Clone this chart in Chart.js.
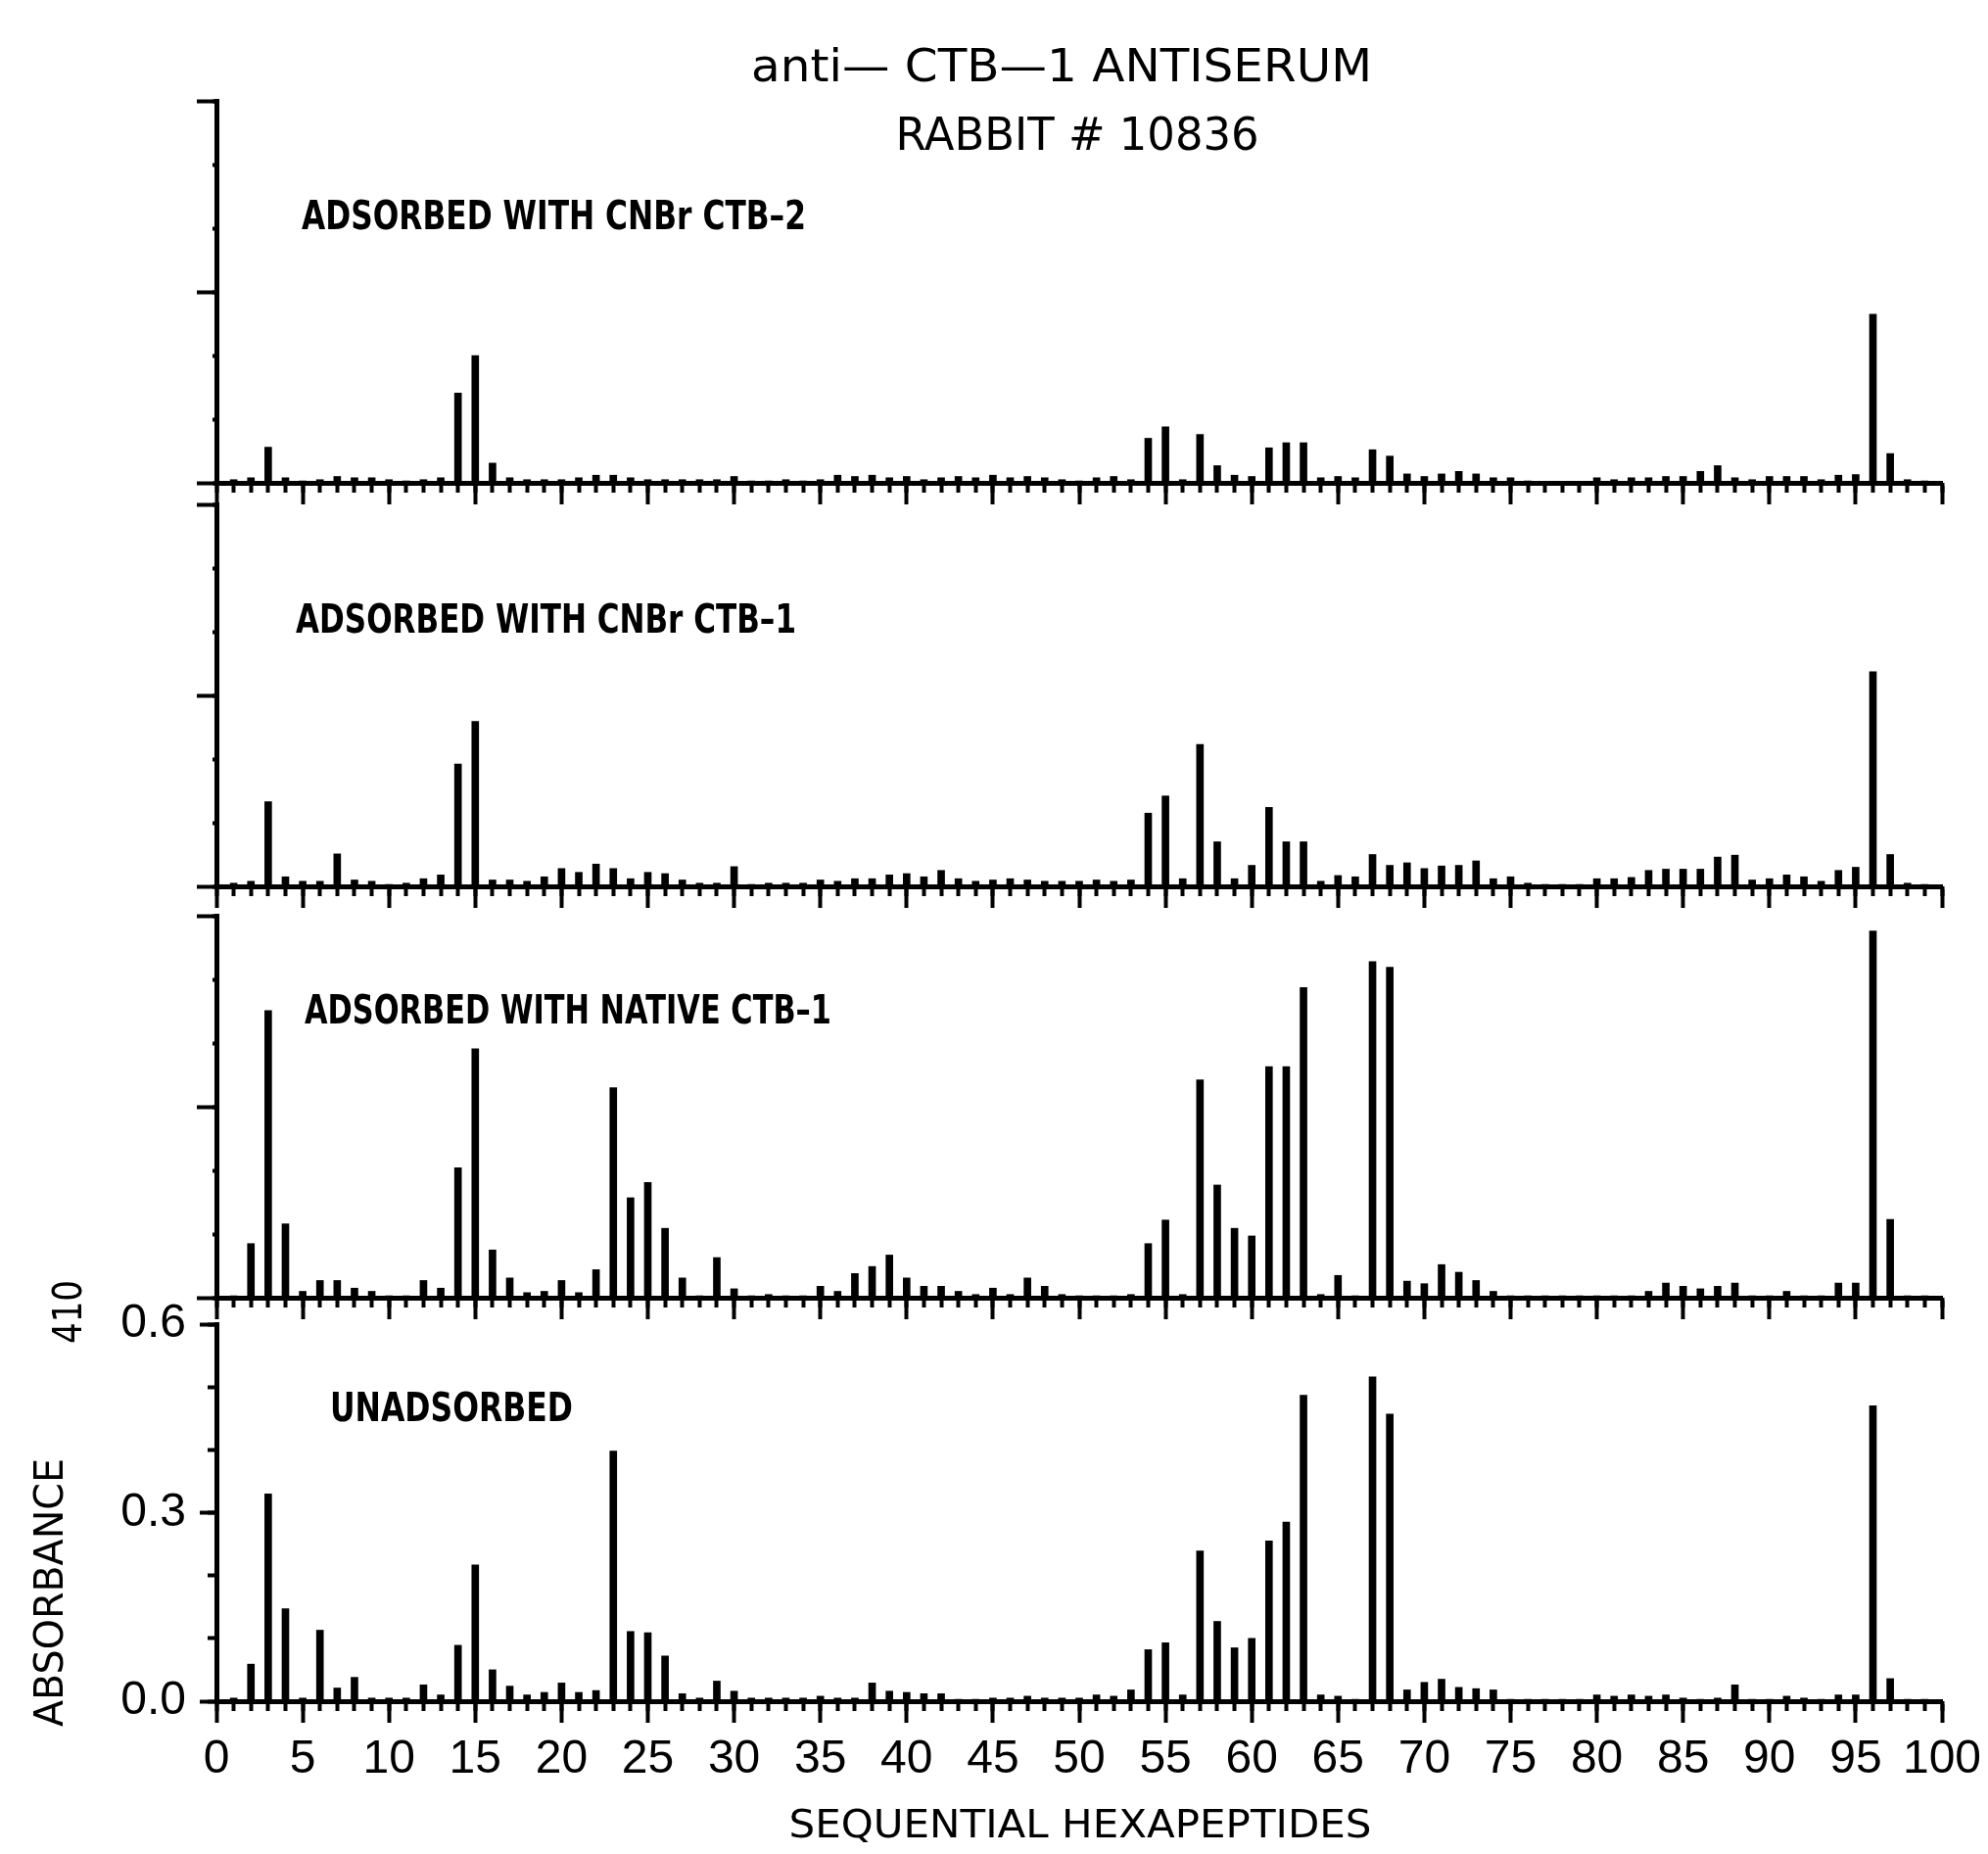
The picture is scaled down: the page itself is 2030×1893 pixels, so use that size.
<!DOCTYPE html>
<html><head><meta charset="utf-8">
<script src="https://cdn.jsdelivr.net/npm/chart.js@4.4.1/dist/chart.umd.min.js"></script>
<style>
html,body{margin:0;padding:0;background:#fff;}
#wrap{position:relative;width:2030px;height:1893px;background:#fff;}
canvas{position:absolute;left:0;top:0;}
</style></head><body>
<div id="wrap">
<canvas id="c1" width="2030" height="1893"></canvas>
<canvas id="c2" width="2030" height="1893"></canvas>
<canvas id="c3" width="2030" height="1893"></canvas>
<canvas id="c4" width="2030" height="1893"></canvas>
</div>
<script>
// ---------------- DATA ----------------
const hexapeptides = [
 1,2,3,4,5,6,7,8,9,10,11,12,13,14,15,16,17,18,19,20,
 21,22,23,24,25,26,27,28,29,30,31,32,33,34,35,36,37,38,39,40,
 41,42,43,44,45,46,47,48,49,50,51,52,53,54,55,56,57,58,59,60,
 61,62,63,64,65,66,67,68,69,70,71,72,73,74,75,76,77,78,79,80,
 81,82,83,84,85,86,87,88,89,90,91,92,93,94,95,96,97,98,99
];

const adsorbedCNBrCTB2 = [
 0.005,0.008,0.056,0.008,0.003,0.005,0.010,0.008,0.008,0.005,
 0.003,0.005,0.008,0.141,0.200,0.031,0.008,0.005,0.005,0.005,
 0.008,0.012,0.012,0.008,0.005,0.005,0.005,0.005,0.005,0.010,
 0.003,0.003,0.005,0.003,0.005,0.012,0.010,0.012,0.008,0.010,
 0.005,0.008,0.010,0.008,0.012,0.008,0.010,0.008,0.005,0.003,
 0.008,0.010,0.005,0.070,0.088,0.005,0.076,0.027,0.012,0.010,
 0.055,0.063,0.063,0.008,0.010,0.008,0.052,0.042,0.014,0.010,
 0.014,0.018,0.014,0.008,0.008,0.003,0.002,0.002,0.002,0.008,
 0.005,0.008,0.008,0.010,0.010,0.018,0.027,0.008,0.005,0.010,
 0.010,0.010,0.005,0.012,0.013,0.265,0.046,0.005,0.003
];

const adsorbedCNBrCTB1 = [
 0.005,0.008,0.133,0.015,0.008,0.008,0.051,0.010,0.008,0.003,
 0.005,0.012,0.018,0.192,0.259,0.010,0.010,0.008,0.015,0.028,
 0.022,0.035,0.028,0.012,0.022,0.020,0.010,0.005,0.005,0.031,
 0.003,0.005,0.005,0.005,0.010,0.008,0.012,0.012,0.018,0.020,
 0.015,0.025,0.012,0.008,0.010,0.012,0.010,0.008,0.008,0.008,
 0.010,0.008,0.010,0.115,0.142,0.012,0.223,0.070,0.012,0.033,
 0.124,0.070,0.070,0.008,0.017,0.015,0.050,0.033,0.037,0.028,
 0.032,0.033,0.040,0.012,0.015,0.005,0.003,0.003,0.003,0.012,
 0.012,0.014,0.025,0.027,0.027,0.027,0.046,0.049,0.010,0.012,
 0.018,0.015,0.008,0.025,0.030,0.337,0.050,0.005,0.003
];

const adsorbedNativeCTB1 = [
 0.003,0.085,0.451,0.116,0.010,0.027,0.027,0.015,0.010,0.003,
 0.003,0.027,0.015,0.204,0.391,0.075,0.031,0.008,0.010,0.027,
 0.008,0.044,0.330,0.157,0.181,0.109,0.031,0.003,0.063,0.014,
 0.003,0.005,0.003,0.003,0.018,0.010,0.038,0.049,0.067,0.031,
 0.018,0.018,0.010,0.005,0.015,0.005,0.031,0.018,0.005,0.003,
 0.003,0.003,0.005,0.085,0.122,0.005,0.342,0.177,0.109,0.097,
 0.363,0.363,0.487,0.005,0.035,0.003,0.528,0.519,0.026,0.022,
 0.052,0.040,0.027,0.010,0.003,0.003,0.003,0.003,0.003,0.003,
 0.003,0.003,0.010,0.023,0.018,0.014,0.018,0.023,0.003,0.003,
 0.010,0.003,0.003,0.023,0.023,0.576,0.123,0.003,0.003
];

const unadsorbed = [
 0.005,0.059,0.330,0.147,0.005,0.113,0.021,0.038,0.005,0.005,
 0.005,0.026,0.010,0.089,0.217,0.050,0.024,0.010,0.014,0.029,
 0.014,0.017,0.398,0.111,0.109,0.072,0.012,0.005,0.032,0.016,
 0.005,0.005,0.005,0.005,0.008,0.005,0.005,0.029,0.016,0.014,
 0.012,0.012,0.003,0.003,0.005,0.005,0.008,0.005,0.005,0.005,
 0.010,0.008,0.018,0.082,0.093,0.010,0.239,0.127,0.085,0.100,
 0.255,0.285,0.487,0.010,0.008,0.003,0.516,0.457,0.018,0.030,
 0.035,0.022,0.020,0.018,0.003,0.003,0.003,0.003,0.003,0.010,
 0.008,0.010,0.008,0.010,0.005,0.003,0.005,0.026,0.003,0.003,
 0.008,0.005,0.003,0.010,0.010,0.470,0.036,0.003,0.003
];

const panelLabels = [
 'ADSORBED WITH CNBr CTB\u20132',
 'ADSORBED WITH CNBr CTB\u20131',
 'ADSORBED WITH NATIVE CTB\u20131',
 'UNADSORBED'
];
const titleLines = ['anti\u2014 CTB\u20141 ANTISERUM', 'RABBIT # 10836'];
const xTitle = 'SEQUENTIAL HEXAPEPTIDES';
const yTitle = 'ABSORBANCE';
const yTitleSub = '410';
const xRange = [0, 100];
const yRange = [0, 0.6];

// ---------------- LAYOUT ----------------
const W = 2030, H = 1893;
const PLOT_LEFT = 221, PLOT_RIGHT = 1983;
const panelHeights = [390, 390, 390, 385];
const X_AXIS_H = 120;
const baselines = [493, 905, 1325, 1737];
// [left x, centre y, target width] of each panel caption
const labelBox = [[308, 224, 515], [302, 636, 511], [311, 1035, 538], [337, 1441, 248]];
const series = [adsorbedCNBrCTB2, adsorbedCNBrCTB1, adsorbedNativeCTB1, unadsorbed];

const SANS = '"DejaVu Sans", "Liberation Sans", sans-serif';
const TICKFONT = '"Liberation Sans", Arimo, sans-serif';

// draws text; if width given, squeezes it horizontally to that width
function drawText(ctx, text, x, y, font, opts) {
  opts = opts || {};
  ctx.save();
  ctx.font = font;
  ctx.fillStyle = '#000';
  ctx.textBaseline = 'middle';
  ctx.textAlign = 'left';
  const w = ctx.measureText(text).width;
  const sx = opts.width ? opts.width / w : 1;
  ctx.translate(x, y);
  if (opts.rot) ctx.rotate(opts.rot);
  let start = 0;
  if (opts.align === 'center') start = -w * sx / 2;
  ctx.scale(sx, 1);
  ctx.fillText(text, start / sx, 0);
  ctx.restore();
}

const textPlugin = {
  id: 'textPlugin',
  afterDraw(chart, args, o) {
    const ctx = chart.ctx;
    const b = o.box;
    drawText(ctx, o.label, b[0], b[1], 'bold 40px ' + SANS, {width: b[2]});
    if (o.first) {
      drawText(ctx, titleLines[0], 1084, 71, '46px ' + SANS, {align: 'center', width: 634});
      drawText(ctx, titleLines[1], 1100, 141, '46px ' + SANS, {align: 'center', width: 371});
    }
    if (o.last) {
      drawText(ctx, xTitle, 1103, 1866, '39px ' + SANS, {align: 'center', width: 595});
      drawText(ctx, yTitle, 54, 1763, '40px ' + SANS, {rot: -Math.PI / 2, width: 274});
      drawText(ctx, yTitleSub, 73, 1372, '40px ' + SANS, {rot: -Math.PI / 2, width: 65});
    }
  }
};

const fixH = h => s => { s.height = h; s.paddingLeft = 0; s.paddingRight = 0; s.paddingTop = 0; s.paddingBottom = 0; };
const fixW = w => s => { s.width = w; s.paddingLeft = 0; s.paddingRight = 0; s.paddingTop = 0; s.paddingBottom = 0; };

series.forEach((vals, i) => {
  const isLast = i === series.length - 1;
  const base = baselines[i];
  new Chart(document.getElementById('c' + (i + 1)), {
    type: 'bar',
    data: {
      datasets: [{
        data: hexapeptides.map((p, k) => ({x: p, y: vals[k]})),
        backgroundColor: '#000',
        borderWidth: 0,
        barThickness: 7,
        xAxisID: 'x', yAxisID: 'y'
      }]
    },
    plugins: [textPlugin],
    options: {
      responsive: false,
      animation: false,
      events: [],
      layout: {
        autoPadding: false,
        padding: {left: 0, right: W - PLOT_RIGHT, top: base - panelHeights[i], bottom: H - base - X_AXIS_H}
      },
      plugins: {
        legend: {display: false},
        tooltip: {enabled: false},
        textPlugin: {label: panelLabels[i], box: labelBox[i], first: i === 0, last: isLast}
      },
      scales: {
        x: {
          type: 'linear', position: 'bottom', min: xRange[0], max: xRange[1], weight: 0, offset: false,
          afterFit: fixH(0),
          ticks: {stepSize: 1, maxTicksLimit: 1000, autoSkip: false, display: false},
          grid: {offset: false, drawOnChartArea: false, drawTicks: true, tickLength: 10, tickWidth: 4, tickColor: '#000'},
          border: {display: true, width: 5, color: '#000'}
        },
        x5: {
          type: 'linear', position: 'bottom', min: xRange[0], max: xRange[1], weight: 1, offset: false,
          afterFit: fixH(X_AXIS_H),
          ticks: {stepSize: 5, autoSkip: false, maxRotation: 0, minRotation: 0, display: isLast, color: '#000',
                  padding: 9, font: {family: TICKFONT, size: 48}},
          grid: {offset: false, drawOnChartArea: false, drawTicks: true, tickLength: 22, tickWidth: 4, tickColor: '#000'},
          border: {display: false}
        },
        y: {
          type: 'linear', position: 'left', min: yRange[0], max: yRange[1], weight: 0,
          afterFit: fixW(0),
          ticks: {stepSize: 0.1, maxTicksLimit: 100, display: false},
          grid: {drawOnChartArea: false, drawTicks: true, tickLength: isLast ? 9 : 4, tickWidth: 4, tickColor: '#000'},
          border: {display: true, width: 5, color: '#000'}
        },
        y3: {
          type: 'linear', position: 'left', min: yRange[0], max: yRange[1], weight: 1,
          afterFit: fixW(PLOT_LEFT),
          ticks: {stepSize: 0.3, display: isLast, color: '#000', padding: 14,
                  font: {family: TICKFONT, size: 48}, callback: v => Number(v).toFixed(1)},
          grid: {drawOnChartArea: false, drawTicks: true, tickLength: isLast ? 17 : 20, tickWidth: 4, tickColor: '#000'},
          border: {display: false}
        }
      }
    }
  });
});
</script>
</body></html>
